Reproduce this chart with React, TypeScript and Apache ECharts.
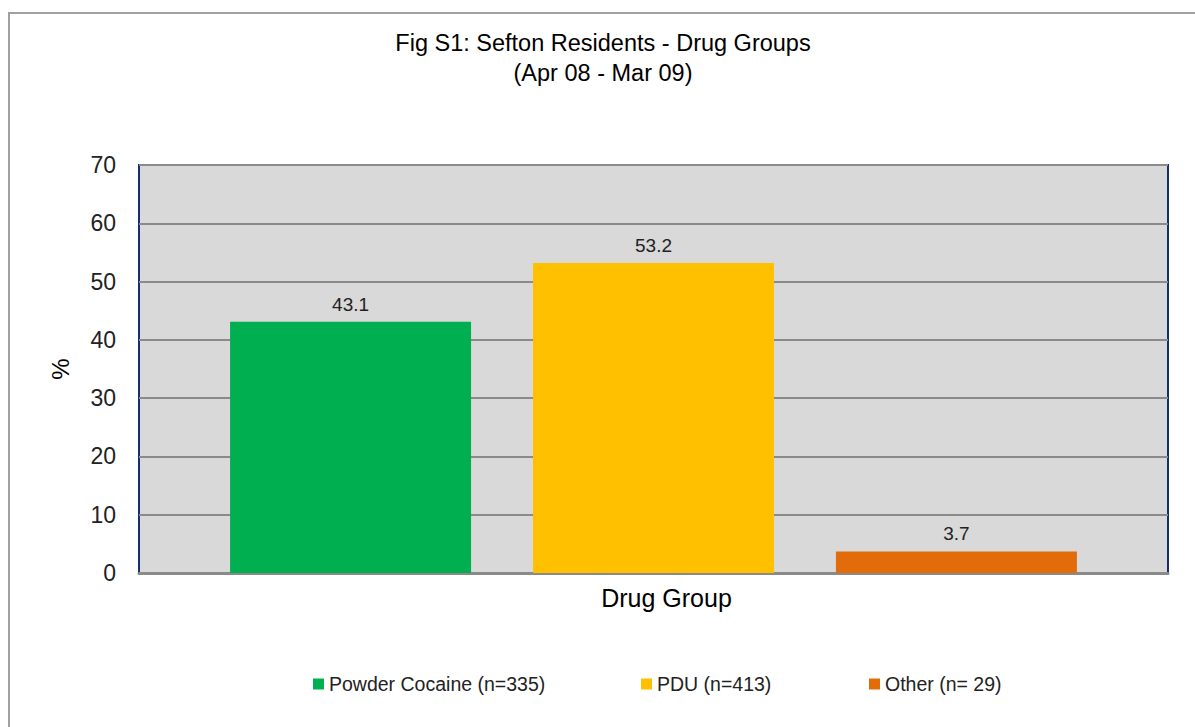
import React, { useEffect, useRef } from "react";
import * as echarts from "echarts";

const categories = ["Drug Group"];
const seriesNames = ["Powder Cocaine (n=335)", "PDU (n=413)", "Other (n= 29)"];
const seriesValues = [43.1, 53.2, 3.7];
const seriesColors = ["#00b050", "#ffc000", "#e36c0a"];
const legendLefts = [313, 641, 869];
const titleText = "Fig S1: Sefton Residents - Drug Groups\n(Apr 08 - Mar 09)";

const FONT = "'Liberation Sans', Arial, sans-serif";

export default function App() {
  const ref = useRef<HTMLDivElement>(null);
  useEffect(() => {
    if (!ref.current) return;
    const chart = echarts.init(ref.current, undefined, { renderer: "svg" });
    chart.setOption({
      animation: false,
      backgroundColor: "#ffffff",
      textStyle: { fontFamily: FONT },
      title: {
        text: titleText,
        left: 598,
        textAlign: "center",
        top: 23,
        textStyle: {
          fontFamily: FONT,
          fontSize: 23.5,
          fontWeight: "normal",
          color: "#000",
          lineHeight: 30,
        },
      },
      legend: seriesNames.map((n, i) => ({
        data: [n],
        left: legendLefts[i],
        top: 674,
        padding: 0,
        itemWidth: 11,
        itemHeight: 11,
        icon: "rect",
        itemGap: 6,
        textStyle: { fontFamily: FONT, fontSize: 19.5, color: "#222" },
      })),
      grid: {
        left: 139,
        top: 165,
        width: 1029,
        height: 408,
        show: true,
        backgroundColor: "#d9d9d9",
        borderColor: "#142f6b",
        borderWidth: 2,
        containLabel: false,
      },
      xAxis: {
        type: "category",
        data: categories,
        axisLine: { show: true, lineStyle: { color: "#8a8a8a", width: 3 } },
        axisTick: { show: false },
        axisLabel: {
          margin: 12,
          fontFamily: FONT,
          fontSize: 25,
          color: "#000",
          padding: [0, 0, 0, 26],
        },
      },
      yAxis: {
        type: "value",
        min: 0,
        max: 70,
        interval: 10,
        name: "%",
        nameLocation: "middle",
        nameRotate: 90,
        nameGap: 67,
        nameTextStyle: { fontFamily: FONT, fontSize: 24, color: "#000" },
        axisLine: { show: false },
        axisTick: { show: false },
        axisLabel: { margin: 23, fontFamily: FONT, fontSize: 23, color: "#222" },
        splitLine: { show: true, lineStyle: { color: "#8a8a8a", width: 2 } },
      },
      series: seriesNames.map((n, i) => ({
        name: n,
        type: "bar",
        data: [seriesValues[i]],
        barWidth: 241,
        barGap: "25.7%",
        itemStyle: { color: seriesColors[i] },
        label: {
          show: true,
          position: "top",
          distance: 8,
          fontFamily: FONT,
          fontSize: 19,
          color: "#222",
          formatter: (p: any) => p.value.toFixed(1),
        },
      })),
      graphic: [
        {
          type: "rect",
          shape: { x: 9, y: 13, width: 1200, height: 740 },
          style: { fill: "none", stroke: "#a0a0a0", lineWidth: 2 },
          silent: true,
        },
      ],
    });
    return () => chart.dispose();
  }, []);
  return (
    <div
      ref={ref}
      style={{ position: "fixed", left: 0, top: 0, width: 1195, height: 727 }}
    />
  );
}
